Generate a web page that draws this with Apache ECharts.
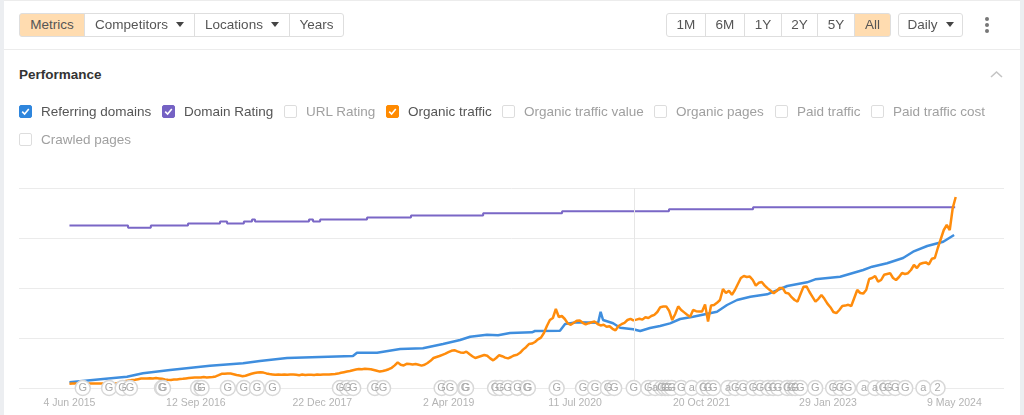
<!DOCTYPE html>
<html>
<head>
<meta charset="utf-8">
<title>Performance</title>
<script src="https://cdn.jsdelivr.net/npm/echarts@6/dist/echarts.min.js"></script>
<style>
  html, body { margin: 0; padding: 0; background: #fff; }
  body { width: 1024px; height: 415px; overflow: hidden; position: relative; font-family: "Liberation Sans", Arial, sans-serif; color: #555; }
  #main { position: absolute; left: 0; top: 0; width: 1024px; height: 415px; }
  .strip { position: absolute; top: 0; bottom: 0; background: #eceef1; }
  .rule { position: absolute; left: 4px; width: 1016px; height: 1px; background: #ececec; }
  .btn { position: absolute; top: 13px; height: 22px; line-height: 22px; border: 1px solid #dedede; background: #fff; text-align: center; font-size: 13.5px; color: #555; box-sizing: content-box; white-space: nowrap; }
  .btn.on { background: #ffdcb0; }
  .caret { display: inline-block; width: 0; height: 0; border-left: 4px solid transparent; border-right: 4px solid transparent; border-top: 5px solid #444; margin-left: 8px; vertical-align: 2px; }
  .dot { position: absolute; left: 985px; width: 4px; height: 4px; border-radius: 2px; background: #777; }
  .box { position: absolute; width: 11px; height: 11px; border: 1px solid #ddd; border-radius: 2px; background: #fff; }
  .box svg { position: absolute; left: 1px; top: 1px; }
  .lab { position: absolute; font-size: 13.5px; line-height: 16px; white-space: nowrap; color: #a0a0a0; }
  .lab.on { color: #555; }
  #title { position: absolute; left: 19px; top: 67px; font-size: 13.5px; font-weight: bold; color: #333; line-height: 16px; }
</style>
</head>
<body>
<div class="strip" style="left:0;width:4px"></div>
<div class="strip" style="left:1020px;width:4px"></div>
<div class="rule" style="top:0"></div>
<div class="rule" style="top:49px"></div>
<div id="title">Performance</div>
<svg style="position:absolute;left:990px;top:70px" width="13" height="8"><path d="M1 7 L6.5 2 L12 7" fill="none" stroke="#c4c4c4" stroke-width="1.6"/></svg>
<div class="dot" style="top:17px"></div>
<div class="dot" style="top:23px"></div>
<div class="dot" style="top:29px"></div>
<div id="main"></div>
<script>
// x values are days since 4 Jun 2015, y is share of chart height (0-100)
const tickDays = [0, 466, 932, 1398, 1864, 2330, 2796, 3262];
const tickLabels = ['4 Jun 2015', '12 Sep 2016', '22 Dec 2017', '2 Apr 2019', '11 Jul 2020', '20 Oct 2021', '29 Jan 2023', '9 May 2024'];

// organic traffic, one reading every 11 days
const trafficStep = 11;
const trafficValues = [
  2.1, 2.2, 2.2, 2.1, 2.2, 2.2, 2.3, 2.2, 2.2, 2.3,
  2.2, 2.2, 2.3, 2.2, 2.3, 2.3, 2.4, 2.8, 3.2, 3.5,
  3.8, 4.0, 4.1, 4.4, 4.7, 4.8, 4.7, 4.9, 4.8, 5.0,
  4.8, 4.6, 4.3, 4.1, 4.0, 4.2, 4.3, 4.5, 4.6, 4.8,
  5.0, 5.1, 5.2, 5.3, 5.2, 5.5, 5.3, 5.4, 5.5, 5.8,
  6.4, 7.1, 7.1, 7.2, 7.2, 6.9, 6.5, 6.2, 5.9, 6.1,
  6.6, 7.1, 7.5, 7.7, 7.9, 7.7, 7.3, 7.0, 6.8, 6.6,
  6.7, 6.6, 6.7, 6.6, 6.8, 6.7, 6.6, 6.4, 6.7, 6.5,
  6.6, 6.6, 6.5, 6.7, 6.6, 6.7, 6.8, 6.7, 6.9, 7.0,
  7.2, 7.6, 7.9, 8.2, 8.5, 8.9, 9.2, 9.5, 9.4, 9.6,
  9.5, 9.4, 9.0, 8.6, 8.2, 8.5, 8.9, 9.4, 10.1, 11.3,
  12.8, 11.6, 11.3, 12.1, 12.0, 11.8, 12.0, 11.6, 11.2, 11.6,
  12.5, 13.6, 15.0, 15.5, 16.0, 16.6, 17.2, 17.9, 18.6, 18.9,
  18.3, 17.8, 17.6, 18.2, 17.0, 15.9, 15.0, 15.5, 16.0, 16.5,
  16.1, 14.8, 13.8, 15.0, 16.4, 15.9, 15.2, 14.8, 15.5, 16.3,
  16.6, 17.6, 19.2, 20.4, 22.0, 22.2, 23.0, 24.3, 25.2, 27.5,
  31.0, 34.0, 35.0, 39.5, 35.5, 36.0, 34.5, 32.3, 31.6, 32.6,
  33.6, 33.8, 32.6, 31.8, 32.4, 32.9, 33.2, 32.0, 31.3, 31.6,
  30.6, 30.9, 29.6, 28.8, 31.0, 31.9, 32.6, 34.0, 34.6, 33.8,
  34.2, 34.6, 34.2, 35.4, 35.0, 36.0, 36.6, 38.0, 40.4, 40.7,
  40.8, 38.5, 34.0, 37.0, 40.8, 39.0, 37.8, 36.6, 35.6, 39.0,
  38.4, 38.2, 38.3, 41.8, 33.2, 41.2, 41.5, 42.6, 44.0, 49.5,
  47.5, 48.6, 46.6, 49.0, 52.0, 55.0, 56.0, 55.5, 55.7, 54.0,
  51.2, 52.6, 53.0, 51.2, 49.8, 48.6, 47.4, 48.5, 50.0, 50.0,
  47.6, 47.3, 45.4, 44.0, 43.2, 47.0, 50.6, 50.8, 48.0, 45.6,
  43.2, 44.6, 46.5, 44.6, 42.2, 40.4, 38.0, 37.4, 39.0, 41.0,
  41.2, 41.6, 41.0, 45.0, 49.0, 47.5, 47.2, 49.0, 54.5, 55.0,
  56.0, 53.2, 54.0, 56.6, 57.0, 57.4, 55.0, 54.0, 55.5, 57.5,
  57.0, 57.4, 59.0, 61.5, 60.0, 62.0, 62.5, 62.8, 61.8, 64.6,
  65.0, 70.0, 74.5, 79.0, 81.5, 79.0, 90.0, 95.5
];

// referring domains
const domainDays = [0, 124, 212, 271, 371, 518, 640, 702, 802, 1045, 1060, 1134, 1219, 1303, 1377, 1440, 1477, 1539, 1580, 1624, 1705, 1716, 1808, 1827, 1871, 1949, 1958, 1967, 2004, 2030, 2078, 2104, 2140, 2177, 2214, 2251, 2299, 2387, 2424, 2461, 2510, 2572, 2646, 2719, 2749, 2841, 2926, 2959, 3014, 3073, 3110, 3162, 3221, 3261];
const domainValues = [2.85, 4.5, 5.65, 7.35, 9, 11.15, 12.35, 13.5, 15, 16, 17.65, 17.65, 19.5, 19.85, 22, 24, 25.65, 26.65, 26.35, 27.5, 27.85, 28.5, 28.65, 32, 32.85, 32.65, 38.1, 34, 32.35, 30.15, 29.35, 28.5, 30, 31, 32.3, 34.5, 35.65, 38.15, 41.5, 44, 45.65, 46.85, 51, 52.85, 54.35, 55.6, 59, 60.65, 62.35, 65, 68.15, 71, 73.15, 76.5];

// domain rating, drawn as steps. Each step is a bit over 1 unit because
// echarts drops line moves of 2px or less, and 1 unit is exactly 2px here
const ratingDays = [0, 216, 300, 437, 555, 581, 643, 673, 684, 883, 898, 924, 1097, 1259, 1525, 1816, 2210, 2520, 3265];
const ratingValues = [81.2, 80.18, 81.2, 82.22, 83.24, 82.22, 83.24, 84.26, 83.24, 84.26, 83.24, 84.26, 85.28, 86.3, 87.32, 88.34, 89.36, 90.38, 90.38];

// annotation bubbles along the baseline
const noteDays = [49, 146, 196, 223, 341, 345, 474, 487, 584, 643, 691, 749, 997, 1023, 1046, 1126, 1156, 1372, 1403, 1458, 1462, 1569, 1587, 1616, 1652, 1687, 1690, 1796, 1893, 1937, 1985, 2008, 2080, 2134, 2159, 2183, 2196, 2207, 2220, 2255, 2294, 2336, 2354, 2373, 2428, 2454, 2483, 2520, 2546, 2575, 2594, 2612, 2646, 2664, 2675, 2694, 2749, 2815, 2841, 2870, 2929, 2970, 2999, 3018, 3044, 3081, 3148, 3200];
const noteTexts = ['G', 'G', 'G', 'G', 'G', 'G', 'G', 'G', 'G', 'G', 'G', 'G', 'G', 'G', 'G', 'G', 'G', 'G', 'G', 'G', 'G', 'G', 'G', 'G', 'G', 'G', 'G', 'G', 'G', 'G', 'G', 'G', 'G', 'G', 'a', 'G', 'G', 'G', 'G', 'G', 'a', 'G', 'G', 'G', 'a', 'G', 'G', 'G', 'G', 'G', 'G', 'G', 'G', 'G', 'G', 'G', 'G', 'G', 'G', 'G', 'a', 'a', 'G', 'G', 'G', 'G', 'a', '2'];

const cursorDay = 2081;

// toolbar and metric toggles
const leftButtons = [['Metrics', 19, 65, true, false], ['Competitors', 84, 110, false, true], ['Locations', 194, 95, false, true], ['Years', 289, 54, false, false]];
const rangeButtons = [['1M', 666, 39, false, false], ['6M', 705, 39, false, false], ['1Y', 744, 37, false, false], ['2Y', 781, 36, false, false], ['5Y', 817, 37, false, false], ['All', 854, 36, true, false], ['Daily', 898, 64, false, true]];
const metrics = [
  ['Referring domains', 19, 105, '#2f86dd'], ['Domain Rating', 162, 105, '#7562c4'], ['URL Rating', 284, 105, null],
  ['Organic traffic', 386, 105, '#ff8a00'], ['Organic traffic value', 502, 105, null], ['Organic pages', 654, 105, null],
  ['Paid traffic', 775, 105, null], ['Paid traffic cost', 871, 105, null], ['Crawled pages', 19, 133, null]
];

function addButton(b, first, last) {
  const el = document.createElement('div');
  el.className = 'btn' + (b[3] ? ' on' : '');
  el.style.left = b[1] + 'px';
  el.style.width = (b[2] - 1) + 'px';
  if (first) el.style.borderRadius = '3px 0 0 3px';
  if (last) el.style.borderRadius = '0 3px 3px 0';
  el.textContent = b[0];
  if (b[4]) {
    const c = document.createElement('span');
    c.className = 'caret';
    el.appendChild(c);
  }
  document.body.appendChild(el);
}
leftButtons.forEach((b, i) => addButton(b, i === 0, i === leftButtons.length - 1));
rangeButtons.slice(0, 6).forEach((b, i) => addButton(b, i === 0, i === 5));
addButton(rangeButtons[6], true, false);
document.body.lastChild.style.borderRadius = '3px';

metrics.forEach(m => {
  const box = document.createElement('div');
  box.className = 'box';
  box.style.left = m[1] + 'px';
  box.style.top = m[2] + 'px';
  if (m[3]) {
    box.style.background = m[3];
    box.style.borderColor = m[3];
    box.innerHTML = '<svg width="9" height="9"><path d="M1.2 4.6 L3.6 7 L7.8 2" fill="none" stroke="#fff" stroke-width="1.6"/></svg>';
  }
  document.body.appendChild(box);
  const lab = document.createElement('div');
  lab.className = 'lab' + (m[3] ? ' on' : '');
  lab.style.left = (m[1] + 22) + 'px';
  lab.style.top = (m[2] - 1) + 'px';
  lab.textContent = m[0];
  document.body.appendChild(lab);
});

const myChart = echarts.init(document.getElementById('main'), null, { renderer: 'canvas' });
myChart.setOption({
  animation: false,
  grid: { left: 19, right: 20, top: 188, height: 200 },
  xAxis: {
    type: 'value',
    min: -186,
    max: 3445,
    splitLine: { show: false },
    axisLine: { show: false },
    axisTick: { show: false },
    axisLabel: {
      customValues: tickDays,
      formatter: v => tickLabels[tickDays.indexOf(v)],
      color: '#b4b4b4',
      fontSize: 10.5,
      fontFamily: 'Liberation Sans',
      margin: 10
    }
  },
  yAxis: {
    type: 'value',
    min: 0,
    max: 100,
    interval: 25,
    axisLabel: { show: false },
    axisLine: { show: false },
    axisTick: { show: false },
    splitLine: { lineStyle: { color: '#ebebeb', width: 1 } }
  },
  series: [
    {
      name: 'Domain Rating',
      type: 'line',
      step: 'end',
      showSymbol: false,
      data: ratingDays.map((d, i) => [d, ratingValues[i]]),
      lineStyle: { color: '#7a67c6', width: 2 },
      z: 2,
      markLine: {
        silent: true,
        symbol: 'none',
        label: { show: false },
        lineStyle: { color: '#e6e6e6', width: 1, type: 'solid' },
        data: [{ xAxis: cursorDay }]
      }
    },
    {
      name: 'Referring domains',
      type: 'line',
      showSymbol: false,
      data: domainDays.map((d, i) => [d, domainValues[i]]),
      lineStyle: { color: '#3f8ede', width: 2.5 },
      z: 3
    },
    {
      name: 'Organic traffic',
      type: 'line',
      showSymbol: false,
      data: trafficValues.map((v, i) => [i * trafficStep, v]),
      lineStyle: { color: '#ff8c0c', width: 2.5 },
      z: 4
    },
    {
      name: 'Notes',
      type: 'scatter',
      symbol: 'circle',
      symbolSize: 15,
      clip: false,
      data: noteDays.map((d, i) => ({ value: [d, 0], label: { formatter: noteTexts[i] } })),
      itemStyle: { color: '#fff', borderColor: '#d8d8d8', borderWidth: 1.5, opacity: 1 },
      label: { show: true, position: 'inside', color: '#aaaaaa', fontSize: 11, fontFamily: 'Liberation Sans' },
      z: 5
    }
  ]
});
</script>
</body>
</html>
